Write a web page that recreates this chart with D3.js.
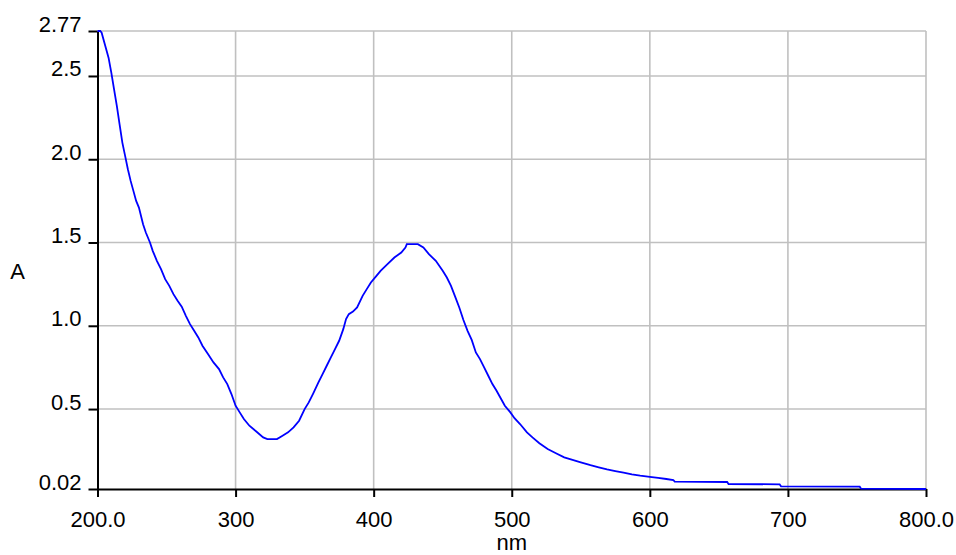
<!DOCTYPE html>
<html lang="en">
<head>
<meta charset="utf-8">
<title>Absorbance spectrum</title>
<script src="https://d3js.org/d3.v7.min.js"></script>
<style>
  body { margin: 0; background: #fff; }
  .tick text, .label { font-family: "Liberation Sans", Arial, sans-serif; font-size: 22px; fill: #000; }
  .grid line { stroke: #c0c0c0; stroke-width: 1.6; }
  .axis path, .axis line { stroke: #000; stroke-width: 2; }
  .spectrum { fill: none; stroke: #0000ff; stroke-width: 1.8; }
</style>
</head>
<body>
<div id="vis"></div>
<script>

// wavelength (nm) and absorbance
const wavelength = [200, 202, 203, 205, 208, 210, 212, 214, 216, 218, 220, 222, 224, 226, 228, 230,
  233, 235, 238, 240, 243, 246, 249, 252, 255, 258, 261, 264, 267, 270, 273, 276, 280, 284, 288,
  291, 294, 297, 300, 303, 306, 310, 315, 320, 323, 330, 334, 338, 342, 346, 350, 353, 356, 360,
  363, 366, 369, 372, 375, 378, 380, 382, 385, 388, 392, 395, 398, 402, 405, 410, 415, 420, 423,
  424, 432, 436, 440, 445, 450, 453, 456, 459, 462, 465, 468, 471, 474, 477, 480, 483, 486, 489,
  492, 495, 499, 502, 506, 511, 515, 520, 526, 532, 538, 544, 550, 557, 563, 569, 575, 581, 587,
  593, 600, 606, 612, 617, 618, 656, 657, 694, 695, 752, 753, 800];
const absorbance = [2.77, 2.77, 2.76, 2.70, 2.61, 2.52, 2.42, 2.32, 2.21, 2.10, 2.02, 1.94, 1.87, 1.81, 1.75, 1.71,
  1.61, 1.56, 1.50, 1.45, 1.39, 1.34, 1.28, 1.24, 1.19, 1.15, 1.115, 1.06, 1.01, 0.97, 0.93, 0.88, 0.83, 0.78, 0.74,
  0.69, 0.65, 0.59, 0.52, 0.48, 0.44, 0.40, 0.365, 0.33, 0.32, 0.32, 0.34, 0.36, 0.39, 0.43, 0.50, 0.54, 0.59, 0.66,
  0.71, 0.76, 0.81, 0.86, 0.91, 0.98, 1.04, 1.07, 1.085, 1.11, 1.18, 1.22, 1.26, 1.30, 1.33, 1.37, 1.41, 1.44, 1.47,
  1.49, 1.49, 1.47, 1.43, 1.39, 1.33, 1.29, 1.24, 1.175, 1.11, 1.035, 0.97, 0.915, 0.84, 0.80, 0.75, 0.70, 0.65, 0.61,
  0.565, 0.52, 0.48, 0.445, 0.41, 0.36, 0.33, 0.295, 0.26, 0.235, 0.21, 0.195, 0.18, 0.163, 0.15, 0.138, 0.128, 0.118, 0.108,
  0.10, 0.093, 0.087, 0.08, 0.074, 0.064, 0.062, 0.05, 0.048, 0.036, 0.034, 0.022, 0.02];

const xTicks = [200, 300, 400, 500, 600, 700, 800];
const xTickLabels = ["200.0", "300", "400", "500", "600", "700", "800.0"];
const yTicks = [0.02, 0.5, 1.0, 1.5, 2.0, 2.5, 2.77];
const yTickLabels = ["0.02", "0.5", "1.0", "1.5", "2.0", "2.5", "2.77"];

const width = 956;
const height = 555;
const plotLeft = 97.5, plotRight = 926, plotTop = 31, plotBottom = 489;

const data = wavelength.map((w, i) => ({ w: w, a: absorbance[i] }));

const xScale = d3.scaleLinear().domain([200, 800]).range([plotLeft, plotRight]);
const yScale = d3.scaleLinear().domain([0.02, 2.77]).range([plotBottom, plotTop]);

const svg = d3.select("#vis")
  .append("svg")
  .attr("width", width)
  .attr("height", height);

// grid
const grid = svg.append("g").attr("class", "grid");
grid.selectAll(".gx")
  .data(xTicks.slice(1))
  .enter()
  .append("line")
  .attr("x1", d => xScale(d)).attr("x2", d => xScale(d))
  .attr("y1", plotTop).attr("y2", plotBottom);
grid.selectAll(".gy")
  .data(yTicks.slice(1))
  .enter()
  .append("line")
  .attr("x1", plotLeft).attr("x2", plotRight)
  .attr("y1", d => yScale(d)).attr("y2", d => yScale(d));

// axes
const bottomAxis = d3.axisBottom(xScale)
  .tickValues(xTicks)
  .tickFormat((d, i) => xTickLabels[i])
  .tickSize(8)
  .tickSizeOuter(0)
  .tickPadding(14);

const leftAxis = d3.axisLeft(yScale)
  .tickValues(yTicks)
  .tickFormat((d, i) => yTickLabels[i])
  .tickSize(9)
  .tickSizeOuter(0)
  .tickPadding(7);

svg.append("g")
  .attr("class", "axis")
  .attr("transform", "translate(0," + plotBottom + ")")
  .call(bottomAxis)
  .call(g => g.selectAll(".tick text").attr("dy", "0.71em"));

svg.append("g")
  .attr("class", "axis")
  .attr("transform", "translate(" + plotLeft + ",0)")
  .call(leftAxis)
  .call(g => g.selectAll(".tick text").attr("dy", "0"));

// spectrum
const line = d3.line()
  .x(d => xScale(d.w))
  .y(d => yScale(d.a));

svg.append("path")
  .datum(data)
  .attr("class", "spectrum")
  .attr("d", line);

// axis labels
svg.append("text")
  .attr("class", "label")
  .attr("x", 17.5)
  .attr("y", 279)
  .attr("text-anchor", "middle")
  .text("A");

svg.append("text")
  .attr("class", "label")
  .attr("x", (plotLeft + plotRight) / 2)
  .attr("y", 550)
  .attr("text-anchor", "middle")
  .text("nm");

</script>
</body>
</html>
